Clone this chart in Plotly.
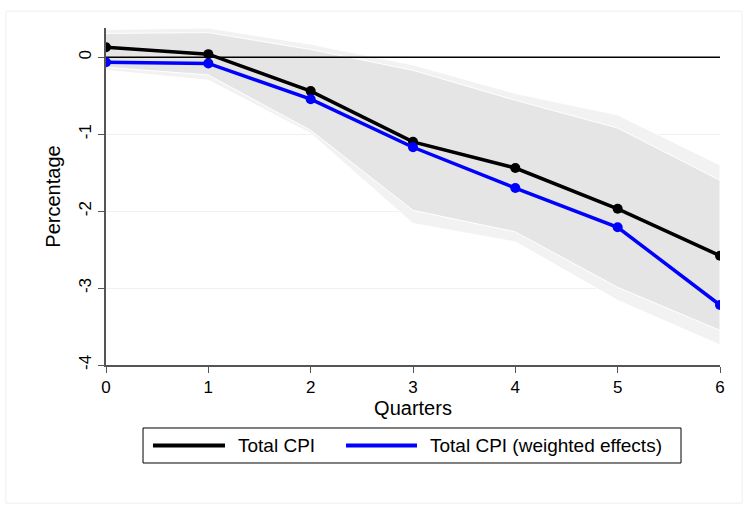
import plotly.graph_objects as go

quarters = [0, 1, 2, 3, 4, 5, 6]
total_cpi = [0.13, 0.04, -0.44, -1.10, -1.44, -1.97, -2.58]
total_cpi_weighted = [-0.065, -0.08, -0.545, -1.17, -1.70, -2.21, -3.22]

outer_upper = [0.36, 0.38, 0.17, -0.10, -0.47, -0.75, -1.40]
outer_lower = [-0.17, -0.30, -0.99, -2.16, -2.40, -3.16, -3.74]
inner_upper = [0.31, 0.32, 0.10, -0.17, -0.56, -0.92, -1.60]
inner_lower = [-0.13, -0.23, -0.95, -1.99, -2.27, -2.99, -3.55]

y_ticks = [0, -1, -2, -3, -4]
y_tick_labels = ["0", "-1", "-2", "-3", "-4"]
x_ticks = [0, 1, 2, 3, 4, 5, 6]

series_names = ["Total CPI", "Total CPI (weighted effects)"]
series_colors = ["black", "#0000ff"]

FONT = "Liberation Sans, Arial, sans-serif"

fig = go.Figure()

# confidence bands
fig.add_trace(go.Scatter(
    x=quarters + quarters[::-1], y=outer_upper + outer_lower[::-1],
    fill="toself", fillcolor="#f2f2f2", line=dict(color="white", width=1),
    mode="lines", showlegend=False, hoverinfo="skip"))
fig.add_trace(go.Scatter(
    x=quarters + quarters[::-1], y=inner_upper + inner_lower[::-1],
    fill="toself", fillcolor="#e5e5e5", line=dict(color="white", width=1),
    mode="lines", showlegend=False, hoverinfo="skip"))

# zero line
fig.add_trace(go.Scatter(x=[quarters[0], quarters[-1]], y=[0, 0], mode="lines",
                         line=dict(color="black", width=1.5), showlegend=False, hoverinfo="skip"))

for name, vals, col in zip(series_names, [total_cpi, total_cpi_weighted], series_colors):
    fig.add_trace(go.Scatter(x=quarters, y=vals, mode="lines+markers", name=name,
                             line=dict(color=col, width=3.5),
                             marker=dict(color=col, size=10), showlegend=False))

# manual legend (paper coordinates)
leg_y = -0.2389
legend_shapes = [
    dict(type="rect", xref="paper", yref="paper", x0=0.0603, x1=0.9365, y0=-0.2908, y1=-0.1869,
         line=dict(color="black", width=1), fillcolor="white"),
    dict(type="line", xref="paper", yref="paper", x0=0.0765, x1=0.1938, y0=leg_y, y1=leg_y,
         line=dict(color=series_colors[0], width=4)),
    dict(type="line", xref="paper", yref="paper", x0=0.3909, x1=0.5065, y0=leg_y, y1=leg_y,
         line=dict(color=series_colors[1], width=4)),
]
legend_annots = [
    dict(xref="paper", yref="paper", x=0.2117, y=leg_y, text=series_names[0], showarrow=False,
         xanchor="left", yanchor="middle", font=dict(family=FONT, size=19, color="black")),
    dict(xref="paper", yref="paper", x=0.5244, y=leg_y, text=series_names[1], showarrow=False,
         xanchor="left", yanchor="middle", font=dict(family=FONT, size=19, color="black")),
]

fig.update_layout(
    width=748, height=506,
    margin=dict(l=106, r=28, t=28, b=141),
    paper_bgcolor="white", plot_bgcolor="white",
    font=dict(family=FONT, size=17, color="black"),
    showlegend=False,
    xaxis=dict(range=[0, 6], tickvals=x_ticks, ticks="outside", ticklen=6,
               tickcolor="#555555", showline=True, linecolor="#555555", linewidth=1.5,
               showgrid=False, zeroline=False,
               title=dict(text="Quarters", standoff=4)),
    yaxis=dict(range=[-4, 0.38], tickvals=y_ticks, ticktext=y_tick_labels,
               ticks="outside", ticklen=6,
               tickcolor="#555555", showline=True, linecolor="#555555", linewidth=1.5,
               tickangle=-90, showgrid=True, gridcolor="#eaf2f3", gridwidth=1,
               zeroline=False,
               title=dict(text="Percentage", standoff=10)),
    shapes=[dict(type="rect", xref="paper", yref="paper", layer="below",
                 x0=-0.163, x1=1.036, y0=-0.41, y1=1.05,
                 line=dict(color="#efefef", width=1))] + legend_shapes,
    annotations=legend_annots,
)

fig.write_html("out.html")
